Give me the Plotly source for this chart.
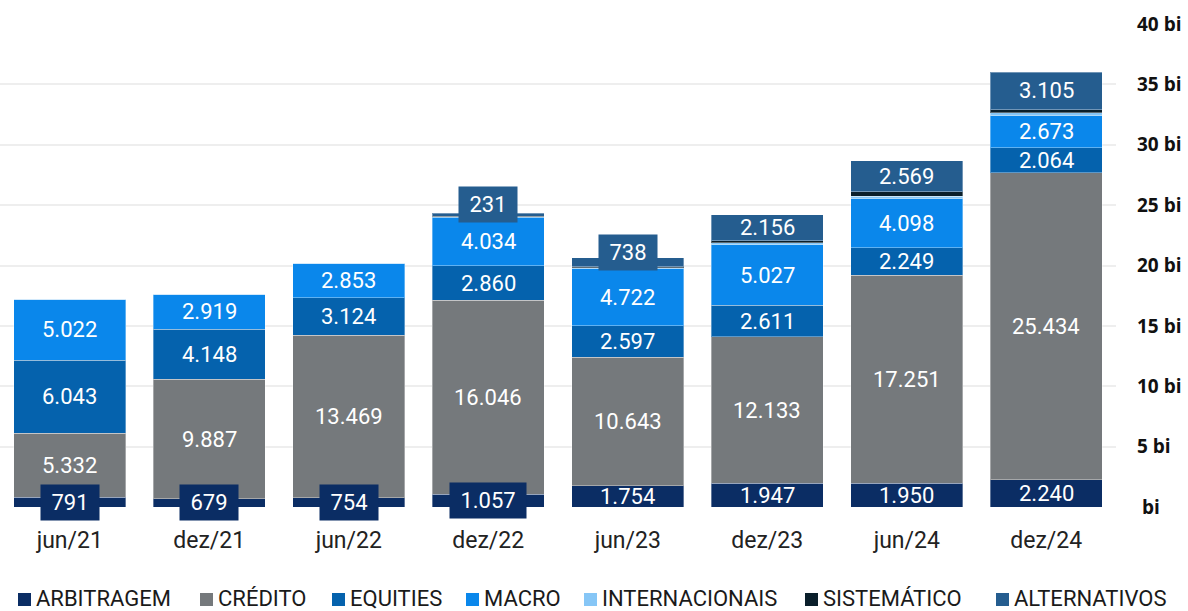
import plotly.graph_objects as go

categories = ["jun/21", "dez/21", "jun/22", "dez/22", "jun/23", "dez/23", "jun/24", "dez/24"]

# values in R$ millions
arbitragem = [791, 679, 754, 1057, 1754, 1947, 1950, 2240]
credito = [5332, 9887, 13469, 16046, 10643, 12133, 17251, 25434]
equities = [6043, 4148, 3124, 2860, 2597, 2611, 2249, 2064]
macro = [5022, 2919, 2853, 4034, 4722, 5027, 4098, 2673]
internacionais = [0, 0, 0, 50, 100, 160, 180, 220]
sistematico = [0, 0, 0, 40, 100, 190, 360, 280]
alternativos = [0, 0, 0, 231, 738, 2156, 2569, 3105]

series_names = ["ARBITRAGEM", "CRÉDITO", "EQUITIES", "MACRO", "INTERNACIONAIS", "SISTEMÁTICO", "ALTERNATIVOS"]
series_values = [arbitragem, credito, equities, macro, internacionais, sistematico, alternativos]
series_colors = ["#0b2d64", "#75797c", "#0562ad", "#0a87eb", "#86c6f6", "#0a1f2b", "#255d8f"]
labelled = {"ARBITRAGEM", "CRÉDITO", "EQUITIES", "MACRO", "ALTERNATIVOS"}

y_tickvals = [0, 5, 10, 15, 20, 25, 30, 35, 40]
y_ticktext = ["\u00a0bi", "5 bi", "10 bi", "15 bi", "20 bi", "25 bi", "30 bi", "35 bi", "40 bi"]

W, H = 1188, 611
ML, MR, MT, MB = 0, 72, 24, 104
PW, PH = W - ML - MR, H - MT - MB


def fmt(v):
    return f"{v:,}".replace(",", ".")


fig = go.Figure()
for name, vals, col in zip(series_names, series_values, series_colors):
    fig.add_trace(go.Bar(
        x=categories, y=[v / 1000 for v in vals], name=name,
        marker=dict(color=col, line=dict(color="rgba(255,255,255,0.35)", width=1)),
        showlegend=False,
    ))

annotations = []
base = [0.0] * len(categories)
for name, vals, col in zip(series_names, series_values, series_colors):
    for i, v in enumerate(vals):
        if name in labelled and v > 0:
            mid = base[i] + v / 2000
            boxed = v < 1500
            txt = fmt(v)
            ann = dict(
                x=categories[i], y=mid, xref="x", yref="y", showarrow=False,
                text=("\u00a0" + txt + "\u00a0") if boxed else txt,
                font=dict(family="Roboto", size=22, color="white"),
            )
            if boxed:
                ann.update(bgcolor=col, borderpad=5)
            if name == "ALTERNATIVOS" and v < 1000:
                ann.update(yshift=10)
            annotations.append(ann)
        base[i] += v / 1000

# custom legend row
leg_sq_x = [18, 200, 332, 466, 584, 805, 996]
leg_y = 598
shapes = []
for name, col, sx in zip(series_names, series_colors, leg_sq_x):
    x0 = (sx - ML) / PW
    x1 = (sx + 13 - ML) / PW
    y0 = (H - MB - (leg_y + 8)) / PH
    y1 = (H - MB - (leg_y - 5)) / PH
    shapes.append(dict(type="rect", xref="paper", yref="paper", x0=x0, x1=x1, y0=y0, y1=y1,
                       fillcolor=col, line=dict(width=0)))
    annotations.append(dict(
        x=(sx + 16 - ML) / PW, y=(H - MB - leg_y) / PH, xref="paper", yref="paper",
        xanchor="left", yanchor="middle", showarrow=False, text=name,
        font=dict(family="Roboto", size=22, color="#1a1a1a"),
    ))

fig.update_layout(
    barmode="stack",
    bargap=0.2,
    width=W, height=H,
    margin=dict(l=ML, r=MR, t=MT, b=MB, autoexpand=False),
    plot_bgcolor="white", paper_bgcolor="white",
    annotations=annotations,
    shapes=shapes,
    showlegend=False,
    xaxis=dict(
        type="category", showgrid=False, zeroline=False, showline=False, automargin=False,
        tickfont=dict(family="Roboto", size=23, color="#222222"),
        ticks="", ticklabelstandoff=17,
    ),
    yaxis=dict(
        side="right", range=[0, 40], tickvals=y_tickvals, ticktext=y_ticktext, automargin=False,
        showgrid=True, gridcolor="#eeeeee", gridwidth=2, zeroline=False,
        tickfont=dict(family="Open Sans", size=19, color="#111111", weight="bold"),
        ticks="", ticklabelstandoff=20,
    ),
)

fig.write_html(
    "out.html",
    config={"displayModeBar": False},
    post_script="document.body.style.margin='0';document.body.style.overflow='hidden';",
)
